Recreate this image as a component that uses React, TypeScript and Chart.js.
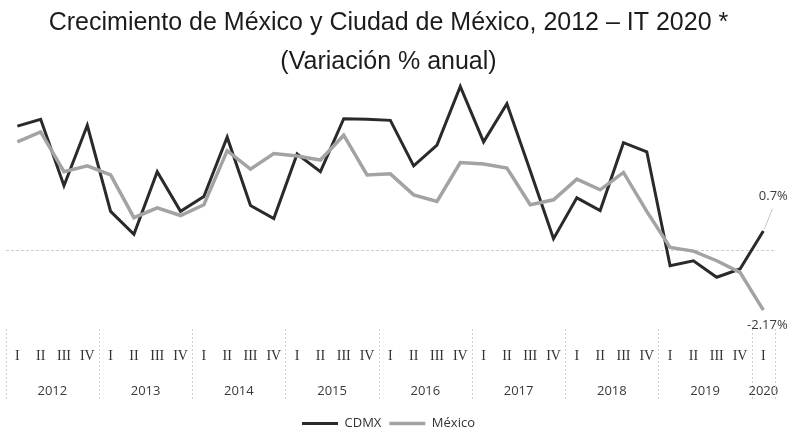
import React, { useEffect, useRef } from "react";
import { Chart, registerables } from "chart.js";

Chart.register(...registerables);

// Annual growth (%) by quarter, 2012-I to 2020-I
const years = ["2012", "2013", "2014", "2015", "2016", "2017", "2018", "2019", "2020"];
const quartersPerYear = [4, 4, 4, 4, 4, 4, 4, 4, 1];
const quarterNames = ["I", "II", "III", "IV"];

const cdmx = [
  4.5, 4.75, 2.34, 4.53, 1.41, 0.58, 2.85, 1.41, 1.95, 4.1, 1.62, 1.15, 3.49, 2.85, 4.77, 4.75,
  4.71, 3.06, 3.81, 5.94, 3.93, 5.31, 2.88, 0.42, 1.9, 1.44, 3.9, 3.57, -0.56, -0.38, -0.98, -0.68,
  0.7,
];
const mexico = [
  3.93, 4.29, 2.85, 3.06, 2.73, 1.18, 1.54, 1.26, 1.65, 3.61, 2.94, 3.51, 3.42, 3.27, 4.17, 2.73,
  2.77, 2.01, 1.77, 3.18, 3.13, 2.98, 1.65, 1.83, 2.58, 2.19, 2.82, 1.41, 0.1, -0.03, -0.38, -0.8,
  -2.17,
];

const seriesNames = ["CDMX", "México"];
const seriesColors = ["#2a2a2a", "#a3a3a3"];

const titleLines = ["Crecimiento de México y Ciudad de México, 2012 – IT 2020 *", "(Variación % anual)"];

const quarterLabels: string[] = [];
years.forEach((_, k) => {
  for (let q = 0; q < quartersPerYear[k]; q++) quarterLabels.push(quarterNames[q]);
});

const AXIS_FONT = "'Open Sans', 'Liberation Sans', sans-serif";

// Year row under the quarter labels, with dotted separators between years
const yearRowPlugin = {
  id: "yearRow",
  afterDraw(chart: any) {
    const x = chart.scales.x;
    const ctx = chart.ctx;
    const bottom = chart.chartArea.bottom;
    const slot = x.getPixelForValue(1) - x.getPixelForValue(0);
    const sep = (px: number) => {
      ctx.beginPath();
      ctx.moveTo(px, bottom - 4);
      ctx.lineTo(px, bottom + 68);
      ctx.stroke();
    };
    ctx.save();
    ctx.strokeStyle = "#d0d0d0";
    ctx.lineWidth = 1;
    ctx.setLineDash([2, 2]);
    ctx.fillStyle = "#3a3a3a";
    ctx.font = `13px ${AXIS_FONT}`;
    ctx.textAlign = "center";
    ctx.textBaseline = "middle";
    let start = 0;
    let right = 0;
    years.forEach((yr, k) => {
      const n = quartersPerYear[k];
      const left = x.getPixelForValue(start) - slot / 2;
      right = x.getPixelForValue(start + n - 1) + slot / 2;
      sep(Math.round(left) + 0.5);
      ctx.fillText(yr, (left + right) / 2, bottom + 58);
      start += n;
    });
    sep(Math.round(right) + 0.5);
    ctx.restore();
  },
};

// Value labels at the last quarter of each series
const endLabelPlugin = {
  id: "endLabels",
  afterDatasetsDraw(chart: any) {
    const ctx = chart.ctx;
    const last = quarterLabels.length - 1;
    const pCdmx = chart.getDatasetMeta(0).data[last];
    const pMex = chart.getDatasetMeta(1).data[last];
    ctx.save();
    ctx.font = `13px ${AXIS_FONT}`;
    ctx.fillStyle = "#3a3a3a";
    ctx.textAlign = "center";
    ctx.textBaseline = "middle";
    // leader line to the CDMX label
    ctx.strokeStyle = "#c4c4c4";
    ctx.lineWidth = 1;
    ctx.beginPath();
    ctx.moveTo(pCdmx.x + 1, pCdmx.y - 2);
    ctx.lineTo(pCdmx.x + 9, pCdmx.y - 22);
    ctx.stroke();
    ctx.fillText(`${cdmx[last]}%`, pCdmx.x + 10, pCdmx.y - 35);
    ctx.fillText(`${mexico[last]}%`, pMex.x + 4, pMex.y + 15);
    ctx.restore();
  },
};

export default function App() {
  const canvasRef = useRef<HTMLCanvasElement | null>(null);

  useEffect(() => {
    if (!canvasRef.current) return;
    const chart = new Chart(canvasRef.current, {
      type: "line",
      data: {
        labels: quarterLabels,
        datasets: [
          {
            label: seriesNames[0],
            data: cdmx,
            borderColor: seriesColors[0],
            backgroundColor: seriesColors[0],
            borderWidth: 3,
            pointRadius: 0,
            tension: 0,
            order: 1,
          },
          {
            label: seriesNames[1],
            data: mexico,
            borderColor: seriesColors[1],
            backgroundColor: seriesColors[1],
            borderWidth: 3.5,
            pointRadius: 0,
            tension: 0,
            order: 0,
          },
        ],
      },
      options: {
        responsive: false,
        animation: false,
        layout: { padding: { left: 2, right: 15, top: 0, bottom: 0 } },
        plugins: {
          title: {
            display: true,
            text: titleLines,
            color: "#1c1c1c",
            font: { family: "'Liberation Sans', Arial, sans-serif", size: 25, weight: "normal", lineHeight: 1.56 },
            padding: { top: 4, bottom: 0 },
          },
          legend: {
            display: true,
            position: "bottom",
            labels: {
              usePointStyle: true,
              pointStyle: "line",
              pointStyleWidth: 36,
              color: "#333",
              font: { family: AXIS_FONT, size: 13 },
              padding: 8,
              sort: (a: any, b: any) => a.datasetIndex - b.datasetIndex,
            },
          },
          tooltip: { enabled: false },
        },
        scales: {
          x: {
            offset: true,
            grid: { display: false, drawTicks: false },
            border: { display: false },
            ticks: {
              autoSkip: false,
              maxRotation: 0,
              padding: 15,
              color: "#333",
              font: { family: "'Liberation Serif', serif", size: 14 },
            },
            afterFit(scale: any) {
              scale.height = 76;
            },
          },
          y: {
            min: -3.0,
            max: 6.1,
            grid: {
              drawTicks: false,
              color: (c: any) => (c.tick && c.tick.value === 0 ? "#cfcfcf" : "rgba(0,0,0,0)"),
            },
            border: { display: false, dash: [3, 2] },
            ticks: { display: false, stepSize: 1 },
          },
        },
      },
      plugins: [yearRowPlugin, endLabelPlugin],
    });
    return () => chart.destroy();
  }, []);

  return (
    <div style={{ position: "absolute", left: 0, top: 0, width: 790, height: 440, background: "#fff" }}>
      <canvas ref={canvasRef} width={790} height={440} />
    </div>
  );
}
